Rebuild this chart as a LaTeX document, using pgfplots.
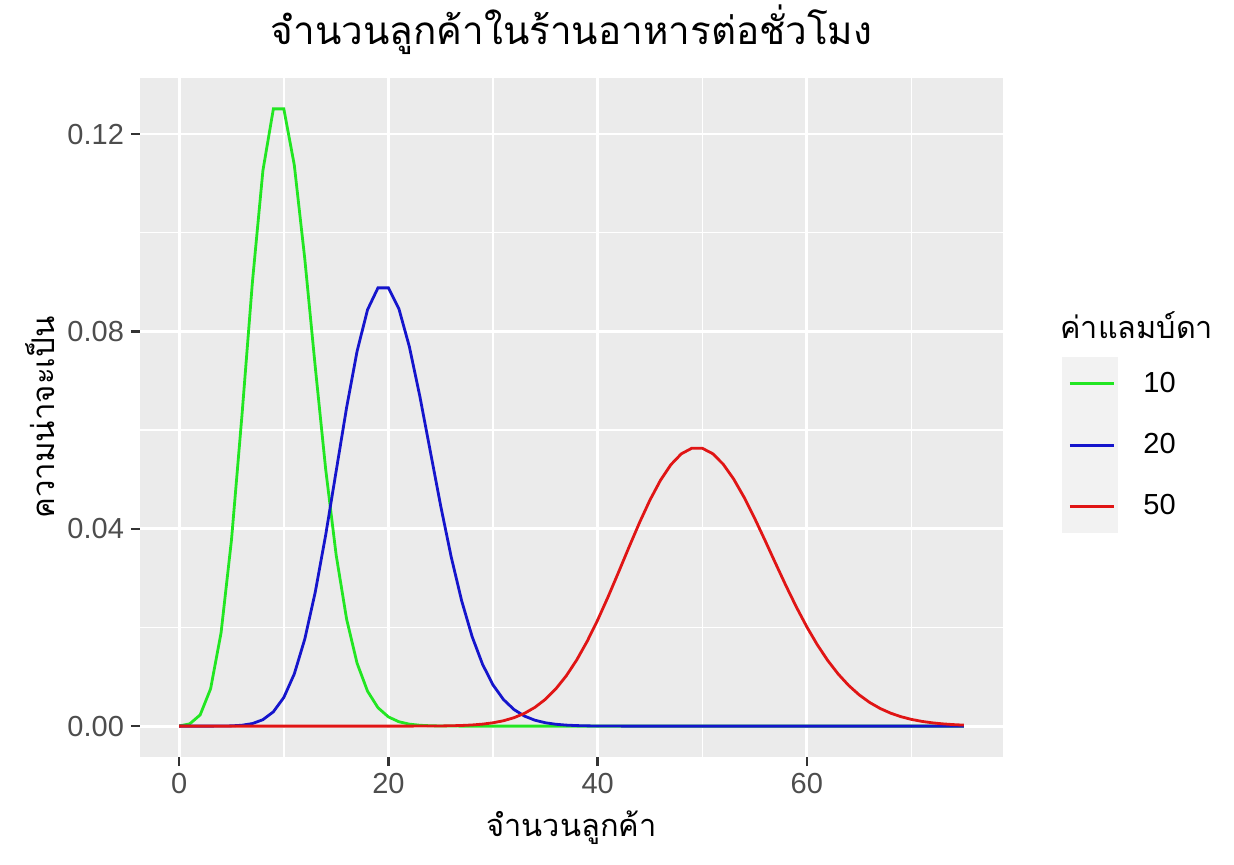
\documentclass[border=0pt]{standalone}
\usepackage{pgfplots}
\pgfplotsset{compat=1.18}
\usepackage{fontspec}
\setmainfont{Liberation Sans}
\newfontfamily\thaifont[Script=Thai]{Loma}
\definecolor{panelgrey}{HTML}{EBEBEB}
\definecolor{keygrey}{HTML}{F2F2F2}
\definecolor{ticktext}{HTML}{4D4D4D}
\definecolor{tickline}{HTML}{333333}
\definecolor{lgreen}{HTML}{22E622}
\definecolor{lblue}{HTML}{1515CC}
\definecolor{lred}{HTML}{E01515}
\begin{document}
\begin{tikzpicture}
% fixed page size: 1234 x 864 px at 0.5pt per px
\path[use as bounding box] (-70pt,-53.5pt) rectangle (547pt,378.5pt);
\begin{axis}[
    name=ax,
    scale only axis,
    width=431.5pt, height=339.5pt,
    xmin=-3.75, xmax=78.75,
    ymin=-0.00626, ymax=0.13137,
    xtick={0,20,40,60}, minor xtick={10,30,50,70},
    ytick={0,0.04,0.08,0.12}, minor ytick={0.02,0.06,0.10},
    scaled y ticks=false,
    grid=both,
    major grid style={white, line width=1.4pt},
    minor grid style={white, line width=0.7pt},
    axis background/.style={fill=panelgrey},
    axis line style={draw=none},
    tick align=outside, tick pos=left,
    major tick length=4.5pt, minor tick length=0pt,
    every tick/.style={tickline, line width=1.2pt},
    /pgf/number format/assume math mode=true,
    ticklabel style={ticktext, font=\fontsize{14.5}{17}\selectfont},
    yticklabel style={/pgf/number format/.cd, fixed, fixed zerofill, precision=2, /tikz/.cd},
    clip=false,
    title={\thaifont จำนวนลูกค้าในร้านอาหารต่อชั่วโมง},
    title style={font=\fontsize{19.3}{24}\selectfont, at={(0.5,1.053)}, anchor=center},
    xlabel={\thaifont จำนวนลูกค้า},
    xlabel style={font=\fontsize{15.4}{18}\selectfont, at={(0.5,-0.1046)}, anchor=center},
    ylabel={\thaifont ความน่าจะเป็น},
    ylabel style={font=\fontsize{15.6}{18}\selectfont, at={(-0.1159,0.5)}, anchor=center},
    legend style={at={(1.0753,0.4595)}, anchor=west, draw=none, fill=none,
        inner sep=0pt, row sep=19pt, column sep=14pt,
        nodes={inner sep=0pt}, font=\fontsize{14.5}{17}\selectfont},
    legend cell align=left,
    legend image code/.code={\draw[#1, line width=1.5pt] (0pt,0pt) -- (22pt,0pt);},
]
% grey key background of the legend
\fill[keygrey] (rel axis cs:1.0684,0.3299) rectangle (rel axis cs:1.1333,0.5891);
\node[anchor=west, inner sep=0pt, font=\fontsize{15.3}{18}\selectfont\thaifont] at (rel axis cs:1.0660,0.6362) {ค่าแลมบ์ดา};

\addplot[lgreen, line width=1.4pt, mark=none] coordinates {
(0,0.0000454)(1,0.000454)(2,0.00227)(3,0.007567)(4,0.018917)(5,0.037833)
(6,0.063055)(7,0.090079)(8,0.112599)(9,0.125110)(10,0.125110)(11,0.113736)
(12,0.094780)(13,0.072908)(14,0.052077)(15,0.034718)(16,0.021699)(17,0.012764)
(18,0.007091)(19,0.003732)(20,0.001866)(21,0.000889)(22,0.000404)(23,0.000176)
(24,0.000073)(25,0.000029)(26,0.000011)(27,0.000004)(28,0.000001)(29,0)(30,0)
(40,0)(50,0)(60,0)(70,0)(75,0)
};
\addlegendentry{10}
\addplot[lblue, line width=1.4pt, mark=none] coordinates {
(0,0)(1,0)(2,0.0000004)(3,0.0000027)(4,0.0000137)(5,0.0000549)(6,0.000183)
(7,0.000523)(8,0.001309)(9,0.002908)(10,0.005816)(11,0.010575)(12,0.017625)
(13,0.027116)(14,0.038737)(15,0.051649)(16,0.064561)(17,0.075954)(18,0.084394)
(19,0.088835)(20,0.088835)(21,0.084605)(22,0.076914)(23,0.066882)(24,0.055735)
(25,0.044588)(26,0.034298)(27,0.025406)(28,0.018147)(29,0.012515)(30,0.008343)
(31,0.005383)(32,0.003364)(33,0.002039)(34,0.001199)(35,0.000685)(36,0.000381)
(37,0.000206)(38,0.000108)(39,0.000055)(40,0.000028)(41,0.000014)(42,0.000007)
(43,0.000003)(44,0.000001)(45,0)(50,0)(60,0)(70,0)(75,0)
};
\addlegendentry{20}
\addplot[lred, line width=1.4pt, mark=none] coordinates {
(0,0)(5,0)(10,0)(15,0)(20,0.0000008)(21,0.0000018)(22,0.0000041)(23,0.0000089)
(24,0.0000185)(25,0.0000371)(26,0.0000713)(27,0.000132)(28,0.000236)(29,0.000406)
(30,0.000677)(31,0.001092)(32,0.001707)(33,0.002586)(34,0.003803)(35,0.005432)
(36,0.007545)(37,0.010196)(38,0.013416)(39,0.017200)(40,0.021500)(41,0.026219)
(42,0.031213)(43,0.036294)(44,0.041244)(45,0.045826)(46,0.049811)(47,0.052991)
(48,0.055199)(49,0.056325)(50,0.056325)(51,0.055221)(52,0.053097)(53,0.050091)
(54,0.046381)(55,0.042164)(56,0.037647)(57,0.033024)(58,0.028469)(59,0.024126)
(60,0.020105)(61,0.016480)(62,0.013290)(63,0.010548)(64,0.008241)(65,0.006339)
(66,0.004802)(67,0.003584)(68,0.002635)(69,0.001909)(70,0.001364)(71,0.000961)
(72,0.000667)(73,0.000457)(74,0.000309)(75,0.000206)
};
\addlegendentry{50}
\end{axis}
\end{tikzpicture}
\end{document}
